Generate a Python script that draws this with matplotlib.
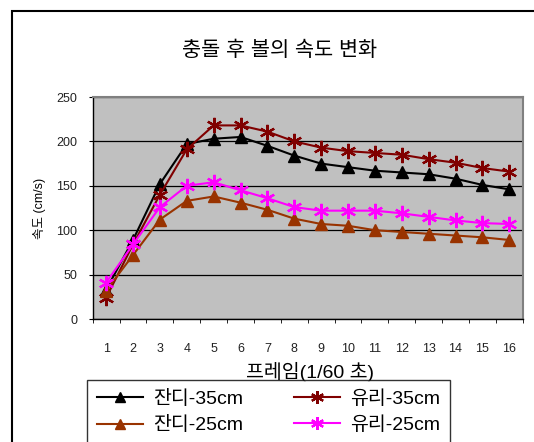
import matplotlib
matplotlib.use("Agg")
import matplotlib.pyplot as plt
from matplotlib.patches import Rectangle
import numpy as np

plt.rcParams['font.family'] = ['Liberation Sans', 'Noto Sans CJK KR', 'DejaVu Sans']

frames = list(range(1, 17))
jandi_35 = [33, 89, 152, 197, 203, 205, 195, 184, 175, 171, 167, 165, 163, 158, 151, 146]
yuri_35 = [24, 84, 140, 191, 218, 218, 211, 200, 193, 189, 187, 185, 180, 176, 170, 166]
jandi_25 = [32, 72, 112, 133, 138, 131, 123, 113, 107, 105, 100, 98, 96, 94, 92, 89]
yuri_25 = [41, 84, 126, 150, 154, 145, 136, 126, 122, 122, 122, 119, 115, 111, 108, 107]

W, H = 534, 442
fig = plt.figure(figsize=(W / 100, H / 100), dpi=100)

# outer chart frame (runs off the right and bottom edges)
fig.patches.append(Rectangle((12 / W, -0.1), 1.2, 1 - 11 / H + 0.1,
                             transform=fig.transFigure, fill=False,
                             edgecolor='black', lw=1.5, zorder=0))

ax = fig.add_axes([92.7 / W, 1 - 319 / H, 430 / W, 222 / H])
ax.set_facecolor('#C0C0C0')

asterisk = (6, 2, 0)
l1, = ax.plot(frames, jandi_35, color='black', lw=1.5, marker='^', ms=9,
              label='잔디-35cm', zorder=3)
l2, = ax.plot(frames, yuri_35, color='#800000', lw=1.5, marker=asterisk, ms=11,
              mew=1.6, label='유리-35cm', zorder=3)
l3, = ax.plot(frames, jandi_25, color='#993300', lw=1.5, marker='^', ms=9,
              label='잔디-25cm', zorder=3)
l4, = ax.plot(frames, yuri_25, color='#FF00FF', lw=1.5, marker=asterisk, ms=11,
              mew=1.6, label='유리-25cm', zorder=3)

ax.set_xlim(0.5, 16.5)
ax.set_ylim(0, 250)
ax.set_yticks(range(0, 251, 50))
ax.yaxis.grid(True, color='black', lw=0.9)
ax.set_axisbelow(True)

ax.set_xticks(frames)
ax.set_xticks(np.arange(0.5, 16.6, 1), minor=True)
ax.tick_params(axis='x', which='major', length=0, pad=17, labelsize=9,
               colors='#222222')
ax.tick_params(axis='x', which='minor', length=3, direction='out')
ax.tick_params(axis='y', length=3, direction='out', labelsize=9, pad=8,
               labelcolor='#222222')

for s in ['top', 'right']:
    ax.spines[s].set_color('#808080')
    ax.spines[s].set_linewidth(1.5)
for s in ['left', 'bottom']:
    ax.spines[s].set_color('black')
    ax.spines[s].set_linewidth(1.0)

fig.text(280 / W, 1 - 50 / H, '충돌 후 볼의 속도 변화', ha='center', va='center',
         fontsize=15)
fig.text(40 / W, 1 - 208 / H, '속도 (cm/s)', ha='center', va='center',
         rotation=90, fontsize=9)
fig.text(310 / W, 1 - 372 / H, '프레임(1/60 초)', ha='center', va='center',
         fontsize=14)

leg = fig.legend([l1, l3, l2, l4], ['잔디-35cm', '잔디-25cm', '유리-35cm', '유리-25cm'],
                 loc='upper left', bbox_to_anchor=(87 / W, 1 - 380 / H),
                 ncol=2, fontsize=14, frameon=True, fancybox=False,
                 edgecolor='black', borderpad=0.5, borderaxespad=0,
                 handlelength=2.4, handletextpad=0.5, columnspacing=2.6,
                 labelspacing=0.45, markerscale=0.85)
leg.get_frame().set_linewidth(1.0)

fig.savefig('out.png', dpi=100)
